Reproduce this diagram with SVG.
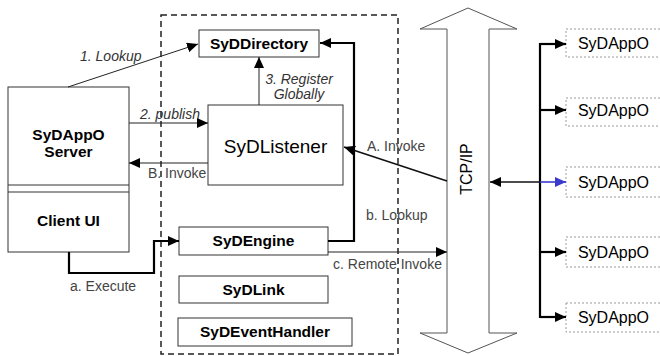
<svg xmlns="http://www.w3.org/2000/svg" width="660" height="356" viewBox="0 0 660 356">
  <style>
    .box { fill: #ffffff; stroke: #333333; stroke-width: 1; }
    .peer { fill: #ffffff; stroke: #9a9a9a; stroke-width: 1; stroke-dasharray: 2 2; }
    .bold { font-family: "Liberation Sans", Arial, sans-serif; font-weight: bold; font-size: 15.5px; fill: #000; text-anchor: middle; }
    .reg { font-family: "Liberation Sans", Arial, sans-serif; font-size: 16px; fill: #000; text-anchor: middle; }
    .lbl { font-family: "Liberation Sans", Arial, sans-serif; font-size: 14px; fill: #444; }
    .ital { font-family: "Liberation Sans", Arial, sans-serif; font-size: 14px; font-style: italic; fill: #333; }
    .thin { fill: none; stroke: #222; stroke-width: 1; }
    .mid { fill: none; stroke: #111; stroke-width: 1.6; }
    .thick { fill: none; stroke: #000; stroke-width: 2.2; }
  </style>
  <defs>
    <marker id="ah" markerWidth="12" markerHeight="10" refX="11" refY="5" orient="auto" markerUnits="userSpaceOnUse">
      <path d="M0,0 L11,5 L0,10 Z" fill="#000"/>
    </marker>
    <marker id="ahBlue" markerWidth="12" markerHeight="10" refX="11" refY="5" orient="auto" markerUnits="userSpaceOnUse">
      <path d="M0,0 L11,5 L0,10 Z" fill="#3a3acc"/>
    </marker>
  </defs>

  <!-- SyD middleware boundary -->
  <rect id="middleware" x="161" y="15" width="237" height="339" fill="none" stroke="#222" stroke-width="1.5" stroke-dasharray="6 4"/>

  <!-- TCP/IP transport, double-headed block arrow -->
  <g id="tcpip">
    <polygon points="447,29 420,29 468,8 517,29 489,29 489,333 517,333 468,353 420,333 447,333" fill="#fff" stroke="#555" stroke-width="1"/>
    <text class="reg" transform="translate(472,169) rotate(-90)">TCP/IP</text>
  </g>

  <g id="server">
    <rect class="box" x="8" y="87" width="121" height="165"/>
    <line x1="8" y1="185" x2="129" y2="185" stroke="#333"/>
    <line x1="8" y1="192" x2="129" y2="192" stroke="#333"/>
    <text class="bold" x="68.5" y="140">SyDAppO</text>
    <text class="bold" x="68.5" y="157">Server</text>
    <text class="bold" x="68.5" y="226">Client UI</text>
  </g>

  <g id="directory">
    <rect class="box" x="199" y="30" width="120" height="27"/>
    <text class="bold" x="259" y="49">SyDDirectory</text>
  </g>

  <g id="listener">
    <rect class="box" x="208" y="105" width="135" height="80"/>
    <text class="reg" x="275.5" y="153" style="font-size:19px">SyDListener</text>
  </g>

  <g id="engine">
    <rect class="box" x="179" y="227" width="149" height="28"/>
    <text class="bold" x="253.5" y="246">SyDEngine</text>
  </g>

  <g id="link">
    <rect class="box" x="179" y="276" width="149" height="27"/>
    <text class="bold" x="253.5" y="295">SyDLink</text>
  </g>

  <g id="eventhandler">
    <rect class="box" x="178" y="318" width="174" height="28"/>
    <text class="bold" x="265" y="337">SyDEventHandler</text>
  </g>

  <!-- remote SyDAppO peers -->
  <g id="peer1">
    <rect class="peer" x="566" y="29" width="120" height="28"/>
    <text class="reg" x="613.5" y="49">SyDAppO</text>
  </g>
  <g id="peer2">
    <rect class="peer" x="566" y="98" width="120" height="28"/>
    <text class="reg" x="613.5" y="116">SyDAppO</text>
  </g>
  <g id="peer3">
    <rect class="peer" x="566" y="167" width="120" height="30"/>
    <text class="reg" x="613.5" y="188">SyDAppO</text>
  </g>
  <g id="peer4">
    <rect class="peer" x="566" y="237" width="120" height="30"/>
    <text class="reg" x="613.5" y="258">SyDAppO</text>
  </g>
  <g id="peer5">
    <rect class="peer" x="566" y="303" width="120" height="29"/>
    <text class="reg" x="613.5" y="323">SyDAppO</text>
  </g>

  <g id="connectors">
    <!-- 1. Lookup -->
    <line class="thin" x1="68" y1="87" x2="198" y2="44" marker-end="url(#ah)"/>
    <text class="ital" x="80" y="61">1. Lookup</text>
    <!-- 2. publish -->
    <line class="thin" x1="129" y1="123" x2="208" y2="123" marker-end="url(#ah)"/>
    <text class="ital" x="140" y="119">2. publish</text>
    <!-- B. Invoke -->
    <line class="thin" x1="208" y1="163" x2="129" y2="163" marker-end="url(#ah)"/>
    <text class="lbl" x="148" y="178">B. Invoke</text>
    <!-- 3. Register Globally -->
    <line class="thin" x1="259" y1="105" x2="259" y2="57" marker-end="url(#ah)"/>
    <text class="ital" x="299" y="84" text-anchor="middle">3. Register</text>
    <text class="ital" x="299" y="99" text-anchor="middle">Globally</text>
    <!-- b. Lookup -->
    <polyline class="thick" points="328,241 354,241 354,43 320,43" marker-end="url(#ah)"/>
    <text class="lbl" x="366" y="220">b. Lookup</text>
    <!-- A. Invoke -->
    <line class="mid" x1="447" y1="181" x2="344" y2="147" marker-end="url(#ah)"/>
    <text class="lbl" x="367" y="151">A. Invoke</text>
    <!-- c. Remote Invoke -->
    <line class="thin" x1="328" y1="252" x2="447" y2="252" marker-end="url(#ah)"/>
    <text class="lbl" x="333" y="269">c. Remote Invoke</text>
    <!-- a. Execute -->
    <polyline class="thick" points="69,252 69,273 154,273 154,241 179,241" marker-end="url(#ah)"/>
    <text class="lbl" x="70" y="291">a. Execute</text>

    <!-- peer bus -->
    <line class="thick" x1="540" y1="43" x2="540" y2="318"/>
    <line class="thick" x1="540" y1="44" x2="566" y2="44" marker-end="url(#ah)"/>
    <line class="thick" x1="540" y1="110" x2="566" y2="110" marker-end="url(#ah)"/>
    <line x1="540" y1="182" x2="566" y2="182" stroke="#3a3acc" stroke-width="1.6" marker-end="url(#ahBlue)"/>
    <line class="thick" x1="540" y1="252" x2="566" y2="252" marker-end="url(#ah)"/>
    <line class="thick" x1="540" y1="317" x2="566" y2="317" marker-end="url(#ah)"/>
    <line class="mid" x1="540" y1="182" x2="490" y2="182" marker-end="url(#ah)"/>
  </g>
</svg>
